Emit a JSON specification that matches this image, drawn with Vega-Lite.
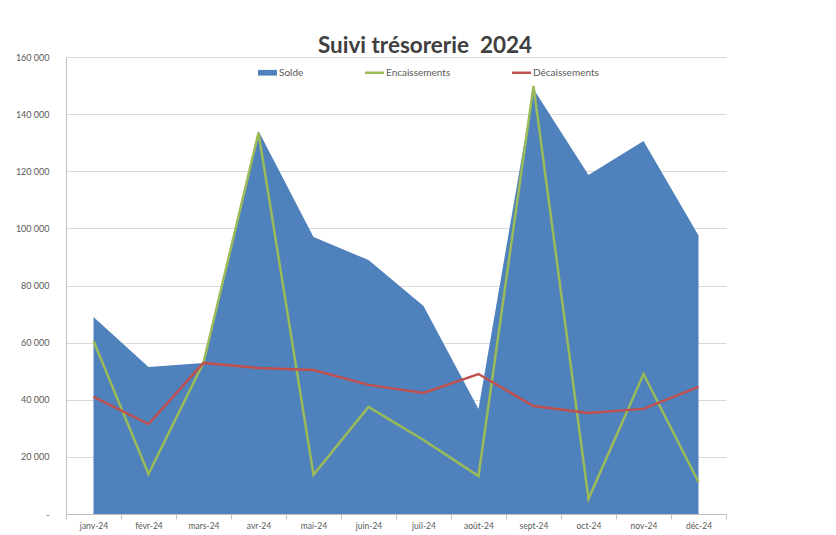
{
  "$schema": "https://vega.github.io/schema/vega-lite/v6.json",
  "width": 660,
  "height": 457,
  "autosize": "none",
  "padding": {"left": 66, "top": 57, "right": 110, "bottom": 21},
  "background": "white",
  "config": {"view": {"stroke": null}, "font": "Lato"},
  "title": {"text": "Suivi trésorerie\u00a0 2024", "fontSize": 22.5, "fontWeight": "bold", "color": "#404040", "anchor": "middle", "dx": 29, "dy": 8, "offset": 4, "font": "Lato"},
  "data": {"values": [
    {"mois": "janv-24", "serie": "Solde", "valeur": 69000},
    {"mois": "févr-24", "serie": "Solde", "valeur": 51500},
    {"mois": "mars-24", "serie": "Solde", "valeur": 52900},
    {"mois": "avr-24", "serie": "Solde", "valeur": 134100},
    {"mois": "mai-24", "serie": "Solde", "valeur": 97000},
    {"mois": "juin-24", "serie": "Solde", "valeur": 88900},
    {"mois": "juil-24", "serie": "Solde", "valeur": 72800},
    {"mois": "août-24", "serie": "Solde", "valeur": 36800},
    {"mois": "sept-24", "serie": "Solde", "valeur": 148800},
    {"mois": "oct-24", "serie": "Solde", "valeur": 118700},
    {"mois": "nov-24", "serie": "Solde", "valeur": 130600},
    {"mois": "déc-24", "serie": "Solde", "valeur": 97500},
    {"mois": "janv-24", "serie": "Encaissements", "valeur": 60600},
    {"mois": "févr-24", "serie": "Encaissements", "valeur": 14000},
    {"mois": "mars-24", "serie": "Encaissements", "valeur": 53000},
    {"mois": "avr-24", "serie": "Encaissements", "valeur": 133500},
    {"mois": "mai-24", "serie": "Encaissements", "valeur": 13700},
    {"mois": "juin-24", "serie": "Encaissements", "valeur": 37500},
    {"mois": "juil-24", "serie": "Encaissements", "valeur": 25900},
    {"mois": "août-24", "serie": "Encaissements", "valeur": 13300},
    {"mois": "sept-24", "serie": "Encaissements", "valeur": 149900},
    {"mois": "oct-24", "serie": "Encaissements", "valeur": 5300},
    {"mois": "nov-24", "serie": "Encaissements", "valeur": 49000},
    {"mois": "déc-24", "serie": "Encaissements", "valeur": 11200},
    {"mois": "janv-24", "serie": "Décaissements", "valeur": 41000},
    {"mois": "févr-24", "serie": "Décaissements", "valeur": 31500},
    {"mois": "mars-24", "serie": "Décaissements", "valeur": 52900},
    {"mois": "avr-24", "serie": "Décaissements", "valeur": 51100},
    {"mois": "mai-24", "serie": "Décaissements", "valeur": 50400},
    {"mois": "juin-24", "serie": "Décaissements", "valeur": 45200},
    {"mois": "juil-24", "serie": "Décaissements", "valeur": 42400},
    {"mois": "août-24", "serie": "Décaissements", "valeur": 49000},
    {"mois": "sept-24", "serie": "Décaissements", "valeur": 37800},
    {"mois": "oct-24", "serie": "Décaissements", "valeur": 35400},
    {"mois": "nov-24", "serie": "Décaissements", "valeur": 36800},
    {"mois": "déc-24", "serie": "Décaissements", "valeur": 44500}
  ]},
  "encoding": {
    "x": {
      "field": "mois", "type": "nominal",
      "sort": ["janv-24", "févr-24", "mars-24", "avr-24", "mai-24", "juin-24", "juil-24", "août-24", "sept-24", "oct-24", "nov-24", "déc-24"],
      "scale": {"type": "band", "paddingInner": 0, "paddingOuter": 0},
      "bandPosition": 0.5,
      "axis": {"title": null, "labelAngle": 0, "tickBand": "extent", "ticks": true, "tickSize": 5, "tickColor": "#BFBFBF", "domainColor": "#BFBFBF", "grid": false, "labelFontSize": 8.5, "labelColor": "#595959", "labelPadding": 2}
    },
    "y": {
      "field": "valeur", "type": "quantitative",
      "scale": {"domain": [0, 160000], "nice": false},
      "axis": {"title": null, "values": [0, 20000, 40000, 60000, 80000, 100000, 120000, 140000, 160000], "labelExpr": "datum.value === 0 ? '-' : format(datum.value / 1000, 'd') + ' 000'", "ticks": false, "labelPadding": 17, "labelFontSize": 9, "labelColor": "#595959", "grid": true, "gridColor": "#D9D9D9", "domainColor": "#BFBFBF"}
    },
    "color": {
      "field": "serie", "type": "nominal",
      "scale": {"domain": ["Solde", "Encaissements", "Décaissements"], "range": ["#4F81BD", "#9BBB59", "#C0504D"]},
      "legend": {"title": null, "orient": "none", "legendX": 192, "legendY": 6, "direction": "horizontal", "symbolSize": 361, "labelFontSize": 10, "labelColor": "#595959", "labelOffset": 2, "columnPadding": 61,
        "encode": {"symbols": {"update": {
          "shape": {"signal": "datum.value === 'Solde' ? 'M-1,-0.3H1V0.3H-1Z' : 'M-1,-0.13H1V0.13H-1Z'"},
          "fill": {"scale": "color", "field": "value"},
          "stroke": {"value": "transparent"},
          "strokeWidth": {"value": 0},
          "opacity": {"value": 1},
          "fillOpacity": {"value": 1}
        }}}}
    }
  },
  "layer": [
    {"transform": [{"filter": "datum.serie === 'Solde'"}], "mark": {"type": "area", "opacity": 1}},
    {"transform": [{"filter": "datum.serie === 'Encaissements'"}], "mark": {"type": "line", "strokeWidth": 2.5}},
    {"transform": [{"filter": "datum.serie === 'Décaissements'"}], "mark": {"type": "line", "strokeWidth": 2.5}}
  ]
}
